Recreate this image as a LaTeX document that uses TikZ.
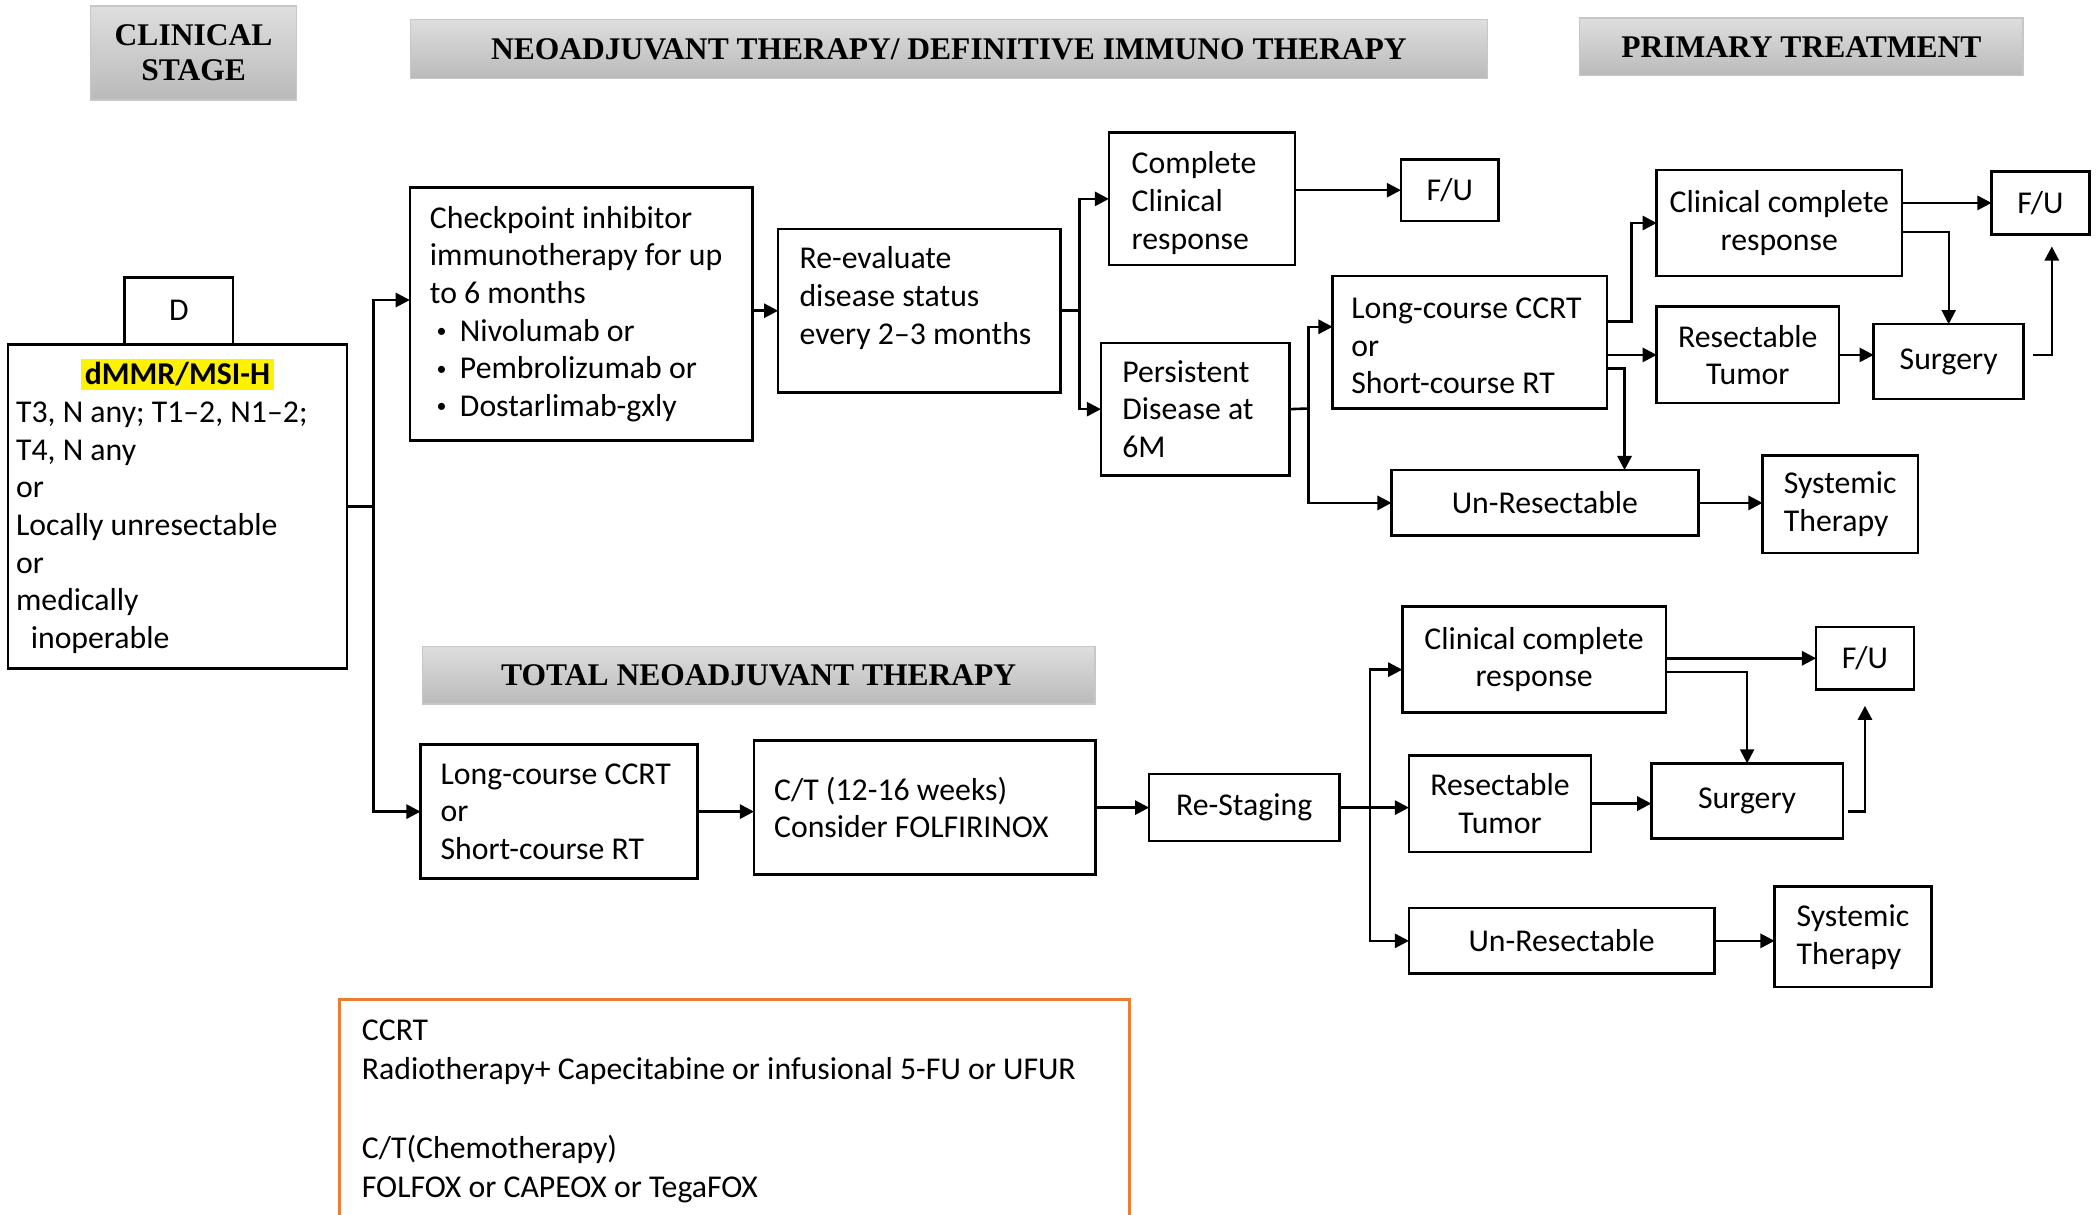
\documentclass[tikz,border=0pt]{standalone}
\usepackage{fontspec}
\setmainfont{Carlito}
\newfontfamily\hdrfont{Liberation Serif}
\usetikzlibrary{arrows.meta}
\definecolor{legor}{HTML}{ED7D31}
\setlength{\fboxsep}{1.5pt}
\newcommand{\boxfont}{\fontsize{13.5}{16}\selectfont}
\newcommand{\bul}{\hspace*{0.1cm}\raisebox{1.6pt}{\fontsize{8.5}{8.5}\selectfont\textbullet}\hspace{0.2cm}}
\tikzset{
  blk/.style={draw, line width=1.1pt, inner sep=0pt, outer sep=0pt, anchor=north west, font=\boxfont, align=center},
  sz/.style 2 args={minimum width=#1*0.02cm, minimum height=#2*0.02cm},
  lft/.style 2 args={align=flush left, text width=#1*0.02cm, inner xsep=#2*0.02cm},
  hdr/.style={draw=black!22, line width=0.6pt, top color=black!13, bottom color=black!27, inner sep=0pt, anchor=north west, align=center, font=\hdrfont\bfseries\fontsize{13.4}{14.7}\selectfont},
  arr/.style={line width=1.1pt, -{Triangle[length=6pt,width=6pt]}},
  ln/.style={line width=1.1pt}
}

\begin{document}
\begin{tikzpicture}[x=0.02cm, y=-0.02cm]
\useasboundingbox (0,0) rectangle (1568,907);

% headers
\node[hdr, sz={154}{70}] (stagehdr) at (67,4) {CLINICAL\\STAGE};
\node[hdr, sz={804}{44}] (neohdr) at (306,14) {NEOADJUVANT THERAPY/ DEFINITIVE IMMUNO THERAPY};
\node[hdr, sz={331}{43}] (primhdr) at (1179,13) {PRIMARY TREATMENT};
\node[hdr, sz={502}{43}] (tnthdr) at (315,482) {TOTAL NEOADJUVANT THERAPY};

% clinical stage
\node[blk, sz={81}{50}] (dbox) at (93,207) {D};
\node[blk, sz={253}{242}, lft={241}{6}] (stage) at (6,257) {\makebox[\hsize][c]{\colorbox{yellow}{\textbf{dMMR/MSI-H}}}\\T3, N any; T1--2, N1--2;\\T4, N any\\or\\Locally unresectable\\or\\medically\\\hspace*{0.22cm}inoperable};

% immunotherapy row
\node[blk, sz={256}{189}, lft={226}{15}] (ckpt) at (306,140) {Checkpoint inhibitor\\immunotherapy for up\\to 6 months\\\bul Nivolumab or\\\bul Pembrolizumab or\\\bul Dostarlimab-gxly};
\node[blk, sz={211}{122}, lft={179}{16}] (reeval) at (581,171) {Re-evaluate\\disease status\\every 2--3 months\rule[-13pt]{0pt}{1pt}};
\node[blk, sz={139}{99}, lft={105}{17}] (ccr1) at (828,99) {\rule{0pt}{13pt}Complete\\Clinical\\response};
\node[blk, sz={73}{46}] (fu1) at (1046,119) {F/U};
\node[blk, sz={141}{99}, lft={109}{16}] (persist) at (822,256) {Persistent\\Disease at\\6M};
\node[blk, sz={205}{99}, lft={177}{14}] (lcrt1) at (995,206) {\rule{0pt}{12pt}Long-course CCRT\\or\\Short-course RT};
\node[blk, sz={229}{49}] (unres1) at (1039,351) {Un-Resectable};
\node[blk, sz={116}{73}, align=flush left] (sys1) at (1316,340) {Systemic\\Therapy};
\node[blk, sz={183}{79}] (ccr2) at (1237,127) {Clinical complete\\response};
\node[blk, sz={73}{47}] (fu2) at (1487,128) {F/U};
\node[blk, sz={136}{72}] (res1) at (1237,229) {Resectable\\Tumor};
\node[blk, sz={112}{56}] (surg1) at (1399,242) {Surgery};

% total neoadjuvant row
\node[blk, sz={207}{100}, lft={177}{15}] (lcrt2) at (314,556) {Long-course CCRT\\or\\Short-course RT};
\node[blk, sz={255}{100}, lft={225}{15}] (ct) at (563,553) {C/T (12-16 weeks)\\Consider FOLFIRINOX};
\node[blk, sz={142}{50}] (restage) at (858,578) {Re-Staging};
\node[blk, sz={197}{79}] (ccr3) at (1047,453) {Clinical complete\\response};
\node[blk, sz={73}{47}] (fu3) at (1356,468) {F/U};
\node[blk, sz={136}{72}] (res2) at (1052,564) {Resectable\\Tumor};
\node[blk, sz={143}{56}] (surg2) at (1233,570) {Surgery};
\node[blk, sz={228}{49}] (unres2) at (1052,678) {Un-Resectable};
\node[blk, sz={117}{75}, align=flush left] (sys2) at (1325,662) {Systemic\\Therapy};

% legend
\node[draw=legor, line width=1.4pt, anchor=north west, inner ysep=0.3cm, lft={556}{17}, font=\fontsize{13.5}{16.7}\selectfont] (legend) at (252,745) {CCRT\\Radiotherapy+ Capecitabine or infusional 5-FU or UFUR\\[16.7pt]C/T(Chemotherapy)\\FOLFOX or CAPEOX or TegaFOX};

% connectors, top
\coordinate (split1) at (279,378);
\draw[ln] (stage.east) -- (split1);
\draw[arr] (split1) |- ([yshift=0.21cm]ckpt.west);
\draw[arr] (split1) |- (lcrt2.west);
\draw[arr] (ckpt.east |- reeval.west) -- (reeval.west);
\coordinate (split2) at (806,232);
\draw[ln] (reeval.east) -- (split2);
\draw[arr] (split2) |- (ccr1.west);
\draw[arr] (split2) |- (persist.west);
\draw[arr] (ccr1.east |- fu1.west) -- (fu1.west);
\coordinate (split3) at (977,305);
\draw[ln] (persist.east) -- (split3);
\draw[arr] (split3) |- ([yshift=0.23cm]lcrt1.west);
\draw[arr] (split3) |- (unres1.west);
\draw[arr] ([yshift=0.31cm]lcrt1.east) -- ++(18,0) |- (ccr2.west);
\draw[arr] (lcrt1.east |- res1.west) -- (res1.west);
\draw[arr] ([yshift=-0.39cm]lcrt1.east) -| ([xshift=1.19cm]unres1.north);
\draw[arr] (unres1.east) -- (unres1.east -| sys1.west);
\draw[arr] (ccr2.east |- fu2.west) -- (fu2.west);
\draw[arr, line width=0.9pt] ([yshift=-0.14cm]ccr2.east) -| (surg1.north);
\draw[arr] (res1.east) -- (res1.east -| surg1.west);
\draw[arr] ([xshift=0.14cm,yshift=0.1cm]surg1.east) -| ([xshift=0.17cm,yshift=-0.18cm]fu2.south);

% connectors, bottom
\draw[arr] (lcrt2.east) -- (lcrt2.east -| ct.west);
\draw[arr] (ct.east) -- (ct.east -| restage.west);
\coordinate (split4) at (1023,603);
\draw[arr] (restage.east) -- (restage.east -| res2.west);
\draw[arr] (split4) |- ([yshift=-0.15cm]ccr3.west);
\draw[arr] (split4) |- (unres2.west);
\draw[arr] (ccr3.east |- fu3.west) -- (fu3.west);
\draw[arr, line width=0.9pt] ([yshift=-0.18cm]ccr3.east) -| (surg2.north);
\draw[arr] (res2.east) -- (res2.east -| surg2.west);
\draw[arr] ([xshift=0.08cm,yshift=-0.16cm]surg2.east) -| ([yshift=-0.24cm]fu3.south);
\draw[arr] (unres2.east) -- (unres2.east -| sys2.west);

\end{tikzpicture}
\end{document}
